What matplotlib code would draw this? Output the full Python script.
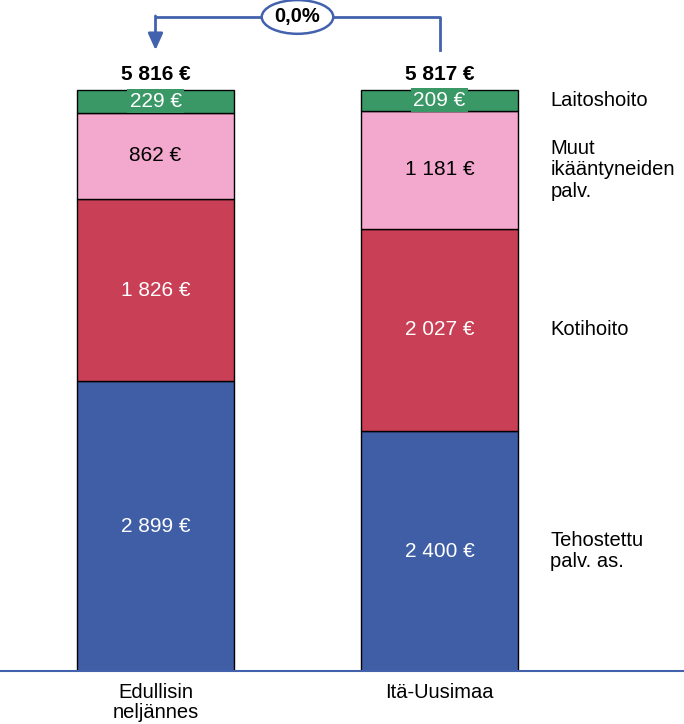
import matplotlib.pyplot as plt
import numpy as np

plt.rcParams['font.family'] = ['Liberation Sans', 'DejaVu Sans']

categories = ['Edullisin\nneljännes', 'Itä-Uusimaa']
segments = ['Tehostettu\npalv. as.', 'Kotihoito', 'Muut\nikääntyneiden\npalv.', 'Laitoshoito']
values = {
    'Tehostettu\npalv. as.': [2899, 2400],
    'Kotihoito': [1826, 2027],
    'Muut\nikääntyneiden\npalv.': [862, 1181],
    'Laitoshoito': [229, 209],
}
totals = [5816, 5817]
change_label = '0,0%'

colors = ['#3F5EA6', '#C93F55', '#F3A8CD', '#3A9866']
text_colors = ['white', 'white', 'black', 'white']
blue = '#4262AE'
fs = 14.5

fig = plt.figure(figsize=(6.84, 7.24), dpi=100)
ax = fig.add_axes([0, 53 / 724, 1, 671 / 724])

x = np.arange(len(categories))
width = 157 / 284
bottom = np.zeros(len(categories))
for i, seg in enumerate(segments):
    vals = np.array(values[seg])
    ax.bar(x, vals, width, bottom=bottom, color=colors[i], edgecolor='black', linewidth=1.0, zorder=2)
    for j, v in enumerate(vals):
        label = f'{v:,} €'.replace(',', ' ')
        kw = {}
        if seg == 'Laitoshoito':
            kw['bbox'] = dict(boxstyle='square,pad=0.12', facecolor=colors[i], edgecolor='none')
        ax.text(x[j], bottom[j] + v / 2, label, ha='center', va='center',
                color=text_colors[i], fontsize=15, zorder=3, **kw)
    # segment labels on the right
    ax.text(1.39, bottom[-1] + vals[-1] / 2, seg, ha='left', va='center',
            fontsize=fs, color='black', linespacing=1.15)
    bottom += vals

for j, t in enumerate(totals):
    ax.text(x[j], t + 95, f'{t:,} €'.replace(',', ' '), ha='center', va='baseline',
            fontsize=15, fontweight='bold')

# change arrow from second bar to first
y_line = 6547
y_end = 6215
ax.plot([x[1], x[1], x[0]], [y_end, y_line, y_line], color=blue, lw=2, clip_on=False, zorder=4)
ax.annotate('', xy=(x[0], y_end), xytext=(x[0], y_line + 10),
            arrowprops=dict(arrowstyle='-|>,head_width=0.45,head_length=1.0',
                            color=blue, lw=2, shrinkA=0, shrinkB=0),
            annotation_clip=False)
ax.text((x[0] + x[1]) / 2, y_line, change_label, ha='center', va='center',
        fontsize=14.5, fontweight='bold', zorder=5,
        bbox=dict(boxstyle='ellipse,pad=0.12', facecolor='white', edgecolor=blue, lw=1.8))

ax.set_xlim(-155.5 / 284, (684 - 155.5) / 284)
ax.set_ylim(0, 671 / 0.0999)
ax.set_xticks(x)
ax.set_xticklabels(categories, fontsize=fs, linespacing=1.05)
ax.tick_params(axis='x', length=0, pad=9)
ax.set_yticks([])
for s in ['top', 'left', 'right']:
    ax.spines[s].set_visible(False)
ax.spines['bottom'].set_color(blue)
ax.spines['bottom'].set_linewidth(1.5)

fig.savefig('out.png', dpi=100)
